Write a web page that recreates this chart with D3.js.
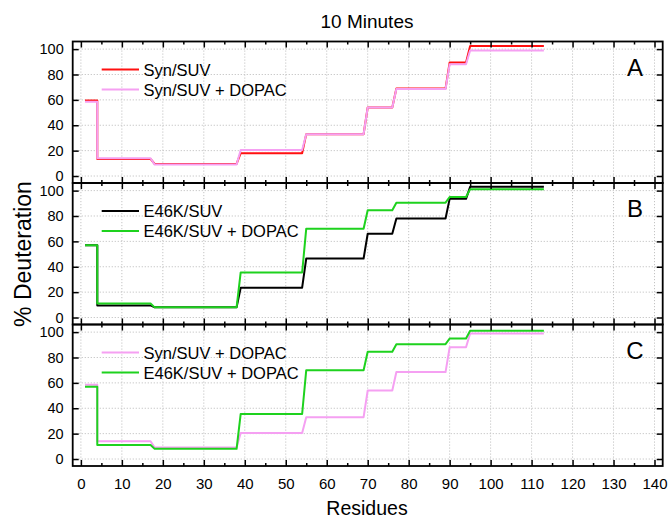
<!DOCTYPE html>
<html>
<head>
<meta charset="utf-8">
<script src="https://cdn.jsdelivr.net/npm/d3@7"></script>
<style>
  body { margin: 0; background: #fff; }
  svg { display: block; font-family: "Liberation Sans", Arial, sans-serif; }
</style>
</head>
<body>
<svg id="chart" width="669" height="521"></svg>
<script>
// Peptide segments (residue ranges) shared by all constructs
const segStart = [1, 4, 18, 39, 55, 70, 77, 90, 95];
const segEnd   = [4, 17, 38, 54, 69, 76, 89, 94, 113];

// % deuteration of each segment after 10 minutes
const synSUV        = [59.5, 13.5, 9.5, 18, 33, 54, 69, 89.5, 102.5];
const synSUVDopac   = [58.5, 14, 9, 20.5, 33, 54, 68.5, 88, 99];
const e46kSUV       = [57, 9.5, 8, 23.5, 46.5, 66, 78, 93.5, 103];
const e46kSUVDopac  = [57, 11, 8, 35.5, 70, 84.5, 90.5, 95, 101];

const panelLetters = ["A", "B", "C"];
const xTickValues = [0, 10, 20, 30, 40, 50, 60, 70, 80, 90, 100, 110, 120, 130, 140];
const xMinorValues = [5, 15, 25, 35, 45, 55, 65, 75, 85, 95, 105, 115, 125, 135];
const yTickValues = [0, 20, 40, 60, 80, 100];

const RED = "#ff1010", PINK = "#f5a0f2", BLACK = "#000000", GREEN = "#1ed21e";

const panels = [
  { letter: panelLetters[0], series: [
      { name: "Syn/SUV", values: synSUV, color: RED },
      { name: "Syn/SUV + DOPAC", values: synSUVDopac, color: PINK } ] },
  { letter: panelLetters[1], series: [
      { name: "E46K/SUV", values: e46kSUV, color: BLACK },
      { name: "E46K/SUV + DOPAC", values: e46kSUVDopac, color: GREEN } ] },
  { letter: panelLetters[2], series: [
      { name: "Syn/SUV + DOPAC", values: synSUVDopac, color: PINK },
      { name: "E46K/SUV + DOPAC", values: e46kSUVDopac, color: GREEN } ] }
];

const svg = d3.select("#chart");
const left = 72.7, right = 662.7;
const top0 = 41.5, panelH = 141.5;

const x = d3.scaleLinear().domain([-2, 142]).range([left, right]);
const y = d3.scaleLinear().domain([-5.5, 106]).range([panelH, 0]);

// Step profile: flat across each segment, joined to the next one
function stepPoints(values) {
  const pts = [];
  values.forEach((v, i) => {
    pts.push([segStart[i], v]);
    pts.push([segEnd[i], v]);
  });
  return pts;
}
const line = d3.line().x(d => x(d[0])).y(d => y(d[1]));

panels.forEach((p, pi) => {
  const g = svg.append("g").attr("transform", `translate(0,${top0 + pi * panelH})`);
  const isLast = pi === panels.length - 1;

  // dotted grid
  g.append("g").selectAll("line.vg").data(xTickValues).join("line")
    .attr("x1", d => x(d)).attr("x2", d => x(d))
    .attr("y1", 0).attr("y2", panelH)
    .attr("stroke", "#c4c4c4").attr("stroke-width", 1).attr("stroke-dasharray", "1.2,1.8");
  g.append("g").selectAll("line.hg").data(yTickValues).join("line")
    .attr("x1", left).attr("x2", right)
    .attr("y1", d => y(d)).attr("y2", d => y(d))
    .attr("stroke", "#c4c4c4").attr("stroke-width", 1).attr("stroke-dasharray", "1.2,1.8");

  // data lines
  p.series.forEach(s => {
    g.append("path").datum(stepPoints(s.values))
      .attr("d", line).attr("fill", "none")
      .attr("stroke", s.color).attr("stroke-width", 2)
      .attr("stroke-linejoin", "round");
  });

  // axes with inward ticks on all four sides
  const styleAxis = sel => {
    sel.select(".domain").remove();
    sel.selectAll(".tick line").attr("stroke", "#000").attr("stroke-width", 1.5);
    sel.selectAll(".tick text").attr("fill", "#000");
  };
  g.append("g").attr("transform", `translate(0,${panelH})`)
    .call(d3.axisBottom(x).tickValues(xTickValues).tickSize(-6).tickPadding(12)
      .tickFormat(isLast ? d3.format("d") : () => ""))
    .call(styleAxis)
    .selectAll("text").style("font-size", "15px").style("font-family", "Liberation Sans, Arial, sans-serif");
  g.append("g").attr("transform", `translate(0,${panelH})`)
    .call(d3.axisBottom(x).tickValues(xMinorValues).tickSize(-3).tickFormat(() => ""))
    .call(styleAxis);
  g.append("g")
    .call(d3.axisTop(x).tickValues(xTickValues).tickSize(-6).tickFormat(() => ""))
    .call(styleAxis);
  g.append("g")
    .call(d3.axisTop(x).tickValues(xMinorValues).tickSize(-3).tickFormat(() => ""))
    .call(styleAxis);
  g.append("g").attr("transform", `translate(${left},0)`)
    .call(d3.axisLeft(y).tickValues(yTickValues).tickSize(-6).tickPadding(9))
    .call(styleAxis)
    .selectAll("text").style("font-size", "14.5px").style("font-family", "Liberation Sans, Arial, sans-serif");
  g.append("g").attr("transform", `translate(${right},0)`)
    .call(d3.axisRight(y).tickValues(yTickValues).tickSize(-6).tickFormat(() => ""))
    .call(styleAxis);

  // frame
  g.append("rect").attr("x", left).attr("y", 0)
    .attr("width", right - left).attr("height", panelH)
    .attr("fill", "none").attr("stroke", "#000").attr("stroke-width", 1.8);

  // legend
  p.series.forEach((s, si) => {
    const ly = 28 + si * 20;
    g.append("line").attr("x1", 101.7).attr("x2", 139).attr("y1", ly).attr("y2", ly)
      .attr("stroke", s.color).attr("stroke-width", 2);
    g.append("text").attr("x", 143.5).attr("y", ly + 6)
      .style("font-size", "16.5px").attr("fill", "#000").text(s.name);
  });

  // panel letter
  g.append("text").attr("x", 635).attr("y", 34).attr("text-anchor", "middle")
    .style("font-size", "24px").attr("fill", "#000").text(p.letter);
});

// title and axis titles
svg.append("text").attr("x", 367).attr("y", 28).attr("text-anchor", "middle")
  .style("font-size", "19px").attr("fill", "#000").text("10 Minutes");
svg.append("text").attr("x", 367).attr("y", 515).attr("text-anchor", "middle")
  .style("font-size", "19.5px").attr("fill", "#000").text("Residues");
svg.append("text").attr("transform", "translate(31,254) rotate(-90)").attr("text-anchor", "middle")
  .style("font-size", "23px").attr("fill", "#000").text("% Deuteration");
</script>
</body>
</html>
